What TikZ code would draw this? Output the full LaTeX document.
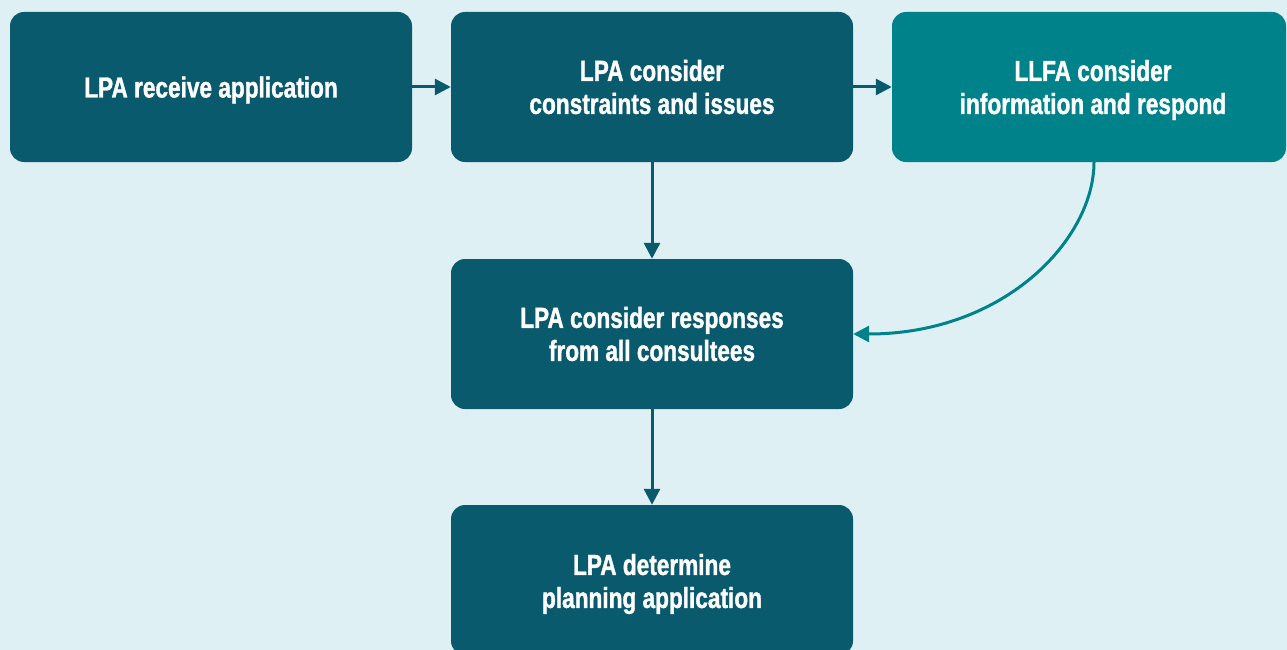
\documentclass[tikz,border=0pt]{standalone}
\usepackage{fontspec}
\setmainfont{Liberation Sans}[FakeStretch=0.78, BoldFeatures={FakeBold=1.2}]
\usetikzlibrary{arrows.meta}
\definecolor{bgc}{HTML}{DFF0F5}
\definecolor{darkc}{HTML}{0A5A6E}
\definecolor{lightc}{HTML}{00828A}
\begin{document}
\begin{tikzpicture}[x=1pt,y=-1pt,
  txt/.style={text=white, align=center, inner sep=0pt, font=\fontsize{29}{33}\selectfont\bfseries},
  box/.style={fill=darkc, rounded corners=14pt, minimum width=402pt, minimum height=150pt, inner sep=0pt, txt},
  lbox/.style={box, fill=lightc, minimum width=394pt},
  arr/.style={line width=3pt, draw=darkc, -{Triangle[length=16pt,width=16pt]}},
  larr/.style={arr, draw=lightc}]
\useasboundingbox (0,0) rectangle (1287,650);
\fill[bgc] (0,0) rectangle (1287,650);
\node[box, label={[txt, yshift=-3pt]center:LPA receive application}] (a) at (211,87) {};
\node[box] (b) at (652,87) {LPA consider\\constraints and issues};
\node[lbox, label={[txt, yshift=-3pt, xshift=4pt]center:LLFA consider\\information and respond}] (c) at (1089,87) {};
\node[box] (d) at (652,334) {LPA consider responses\\from all consultees};
\node[box, label={[txt, yshift=-4pt]center:LPA determine\\planning application}] (e) at (652,580) {};
\draw[arr] (a.east) -- (b.west);
\draw[arr] (b.east) -- (c.west);
\draw[arr] (b.south) -- (d.north);
\draw[arr] (d.south) -- (e.north);
\coordinate (cs) at (1094,162);
\draw[larr] (cs) .. controls (1094,239) and (1005,334) .. (d.east);
\end{tikzpicture}
\end{document}
